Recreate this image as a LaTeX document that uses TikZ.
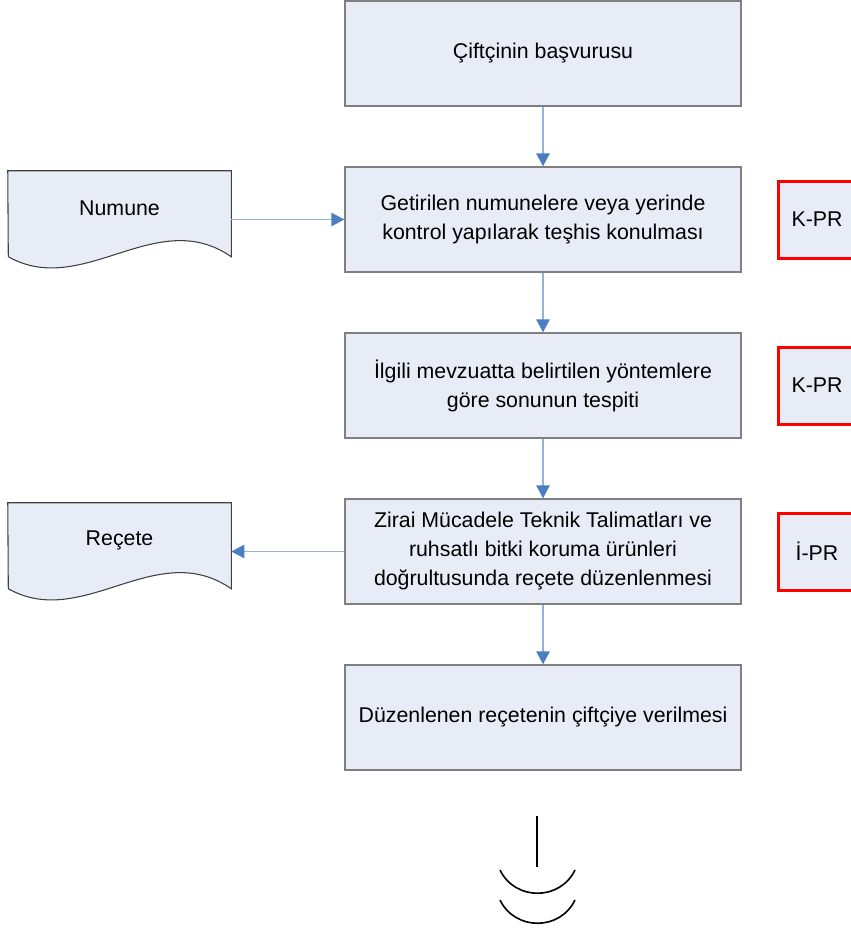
\documentclass[tikz,border=0pt]{standalone}
\usepackage{fontspec}
\setmainfont{Liberation Sans}
\usepackage{tikz}
\usetikzlibrary{positioning,arrows.meta,backgrounds}

\definecolor{dolgu}{RGB}{231,236,247}
\definecolor{kenar}{RGB}{128,128,128}
\definecolor{okcizgi}{RGB}{149,179,215}
\definecolor{okucu}{RGB}{74,126,193}

\begin{document}
\begin{tikzpicture}[x=0.75pt,y=-0.75pt,node distance=124.5pt,on grid,
    font=\fontsize{16}{21.75}\selectfont,
    kutu/.style={draw=kenar,line width=1pt,fill=dolgu,minimum width=297pt,minimum height=78.75pt,inner sep=0pt,align=center},
    belge/.style={minimum width=167.25pt,minimum height=55.5pt,inner sep=0pt,align=center},
    belgeyol/.style={draw=black!75,line width=0.8pt,fill=dolgu},
    kontrol/.style={draw=red,line width=2.25pt,fill=dolgu,minimum width=57.75pt,minimum height=57.75pt,inner sep=0pt},
    ok/.style={draw=okcizgi,line width=1.3pt,-{Triangle[length=9.75pt,width=10pt,color=okucu]}},
    sembol/.style={draw=black,line width=1.2pt}]
   \useasboundingbox (0,0) rectangle (850,928);

   \node[kutu] (kutu1) at (543,53.5) {Çiftçinin başvurusu};
   \node[kutu] (kutu2) [below=of kutu1] {Getirilen numunelere veya yerinde\\kontrol yapılarak teşhis konulması};
   \node[kutu] (kutu3) [below=of kutu2] {İlgili mevzuatta belirtilen yöntemlere\\göre sonunun tespiti};
   \node[kutu] (kutu4) [below=of kutu3] {Zirai Mücadele Teknik Talimatları ve\\ruhsatlı bitki koruma ürünleri\\doğrultusunda reçete düzenlenmesi};
   \node[kutu] (kutu5) [below=of kutu4] {Düzenlenen reçetenin çiftçiye verilmesi};

   \node[belge] (numune) [left=317.6pt of kutu2,yshift=8.6pt] {Numune};
   \node[belge] (recete) [left=317.6pt of kutu4,yshift=8.6pt] {Reçete};

   \node[kontrol] (kpr1) [right=205.5pt of kutu2] {K-PR};
   \node[kontrol] (kpr2) [right=205.5pt of kutu3] {K-PR};
   \node[kontrol] (ipr) [right=205.5pt of kutu4] {İ-PR};

   % belge sekilleri
   \begin{scope}[on background layer]
   \foreach \b in {numune,recete}
     \path[belgeyol] (\b.north west) -- (\b.north east) -- ++(0,86)
        .. controls +(-75,-52) and +(75,42) .. ++(-223,0) -- cycle;
   \end{scope}

   \path
    (kutu1) edge[ok] (kutu2)
    (kutu2) edge[ok] (kutu3)
    (kutu3) edge[ok] (kutu4)
    (kutu4) edge[ok] (kutu5)
    (kutu2.west -| numune.east) edge[ok] (kutu2)
    (kutu4) edge[ok] (kutu4.west -| recete.east);

   % sayfa sonu
   \draw[sembol] (537,816) -- (537,867);
   \draw[sembol] (500,870) .. controls +(15,31) and +(-15,31) .. (575,870);
   \draw[sembol] (500,900) .. controls +(15,31) and +(-15,31) .. (575,900);
\end{tikzpicture}
\end{document}
